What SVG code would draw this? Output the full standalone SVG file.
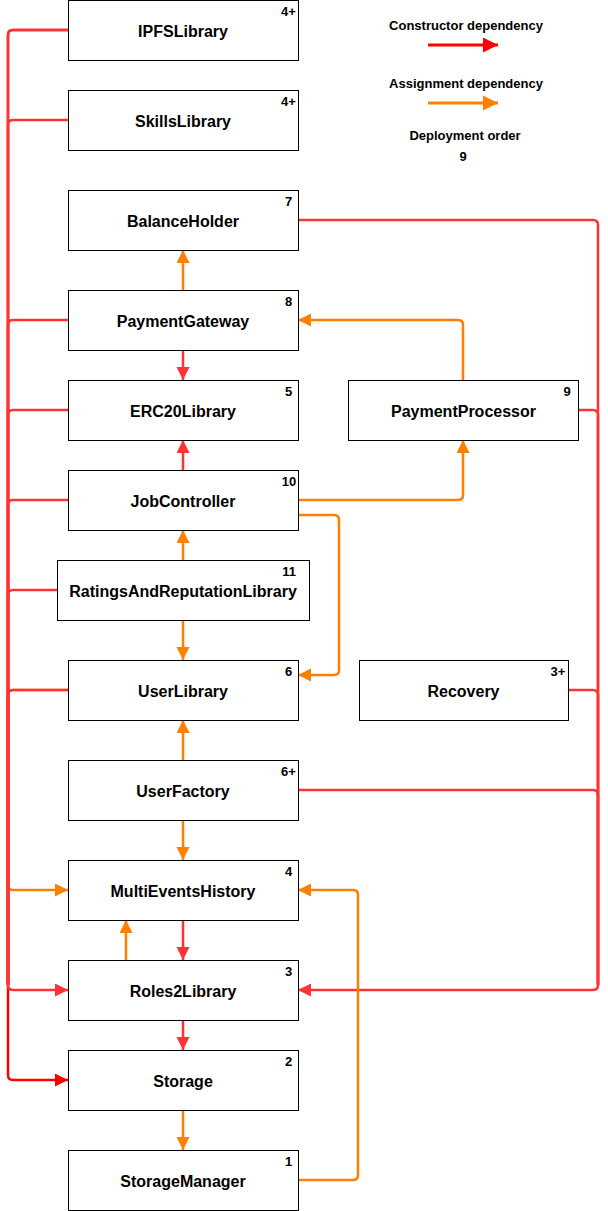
<svg xmlns="http://www.w3.org/2000/svg" width="608" height="1211" viewBox="0 0 608 1211">
<style>
.box{fill:#fff;stroke:#000;stroke-width:1}
.lbl{font-family:"Liberation Sans",Arial,sans-serif;font-weight:bold;font-size:16px;fill:#000;text-anchor:middle}
.num{font-family:"Liberation Sans",Arial,sans-serif;font-weight:bold;font-size:13px;fill:#000;text-anchor:middle}
.leg{font-family:"Liberation Sans",Arial,sans-serif;font-weight:bold;font-size:13px;fill:#000;text-anchor:middle}
.r{fill:none;stroke:#FF3333;stroke-width:2.5}
.rr{fill:none;stroke:#FF0000;stroke-width:2.5}
.o{fill:none;stroke:#FF8000;stroke-width:2.5}
.ar{marker-end:url(#mr)}
.ao{marker-end:url(#mo)}
.arr{marker-end:url(#mrr)}
</style>
<defs>
<marker id="mr" markerUnits="userSpaceOnUse" markerWidth="14" markerHeight="14" refX="13" refY="6.5" orient="auto"><path d="M0,0 L13,6.5 L0,13 z" fill="#FF3333"/></marker>
<marker id="mrr" markerUnits="userSpaceOnUse" markerWidth="14" markerHeight="14" refX="13" refY="6.5" orient="auto"><path d="M0,0 L13,6.5 L0,13 z" fill="#FF0000"/></marker>
<marker id="mo" markerUnits="userSpaceOnUse" markerWidth="14" markerHeight="14" refX="13" refY="6.5" orient="auto"><path d="M0,0 L13,6.5 L0,13 z" fill="#FF8000"/></marker>
<marker id="lr" markerUnits="userSpaceOnUse" markerWidth="16" markerHeight="16" refX="15" refY="7.5" orient="auto"><path d="M0,0 L15,7.5 L0,15 z" fill="#FF0000"/></marker>
<marker id="lo" markerUnits="userSpaceOnUse" markerWidth="16" markerHeight="16" refX="15" refY="7.5" orient="auto"><path d="M0,0 L15,7.5 L0,15 z" fill="#FF8000"/></marker>
</defs>

<g id="connectors">
  <!-- left bus -->
  <path class="rr arr" d="M68 30 H13 Q8 30 8 35 V1075 Q8 1080 13 1080 H68"/>
  <path class="o ao" d="M68 690 H13 Q8 690 8 695 V885 Q8 890 13 890 H68"/>
  <path class="r ar" d="M68 30 H13 Q8 30 8 35 V985 Q8 990 13 990 H68"/>
  <path class="r" d="M68 120 H13 Q8 120 8 125 V985"/>
  <path class="r" d="M68 320 H13 Q8 320 8 325 V985"/>
  <path class="r" d="M68 410 H13 Q8 410 8 415 V985"/>
  <path class="r" d="M68 500 H13 Q8 500 8 505 V985"/>
  <path class="r" d="M57 590 H13 Q8 590 8 595 V985"/>
  <path class="r" d="M68 690 H13 Q8 690 8 695 V985"/>
  <!-- right bus -->
  <path class="r ar" d="M298 220 H593 Q598 220 598 225 V985 Q598 990 593 990 H298"/>
  <path class="r" d="M578 410 H593 Q598 410 598 415 V985"/>
  <path class="r" d="M568 690 H593 Q598 690 598 695 V985"/>
  <path class="r" d="M298 790 H593 Q598 790 598 795 V985"/>
  <!-- vertical links -->
  <path class="o ao" d="M183 290 V250"/>
  <path class="r ar" d="M183 350 V380"/>
  <path class="r ar" d="M183 470 V440"/>
  <path class="o ao" d="M183 560 V530"/>
  <path class="o ao" d="M183 620 V660"/>
  <path class="o ao" d="M183 760 V720"/>
  <path class="o ao" d="M183 820 V860"/>
  <path class="r ar" d="M183 920 V960"/>
  <path class="o ao" d="M126 960 V920"/>
  <path class="r ar" d="M183 1020 V1050"/>
  <path class="o ao" d="M183 1110 V1150"/>
  <!-- routed links -->
  <path class="o ao" d="M463 380 V325 Q463 320 458 320 H298"/>
  <path class="o ao" d="M298 500 H458 Q463 500 463 495 V440"/>
  <path class="o ao" d="M298 515 H334 Q339 515 339 520 V670 Q339 675 334 675 H298"/>
  <path class="o ao" d="M298 1180 H353 Q358 1180 358 1175 V895 Q358 890 353 890 H298"/>
</g>

<g id="legend">
  <text class="leg" x="466" y="30">Constructor dependency</text>
  <path d="M428 45 H498" fill="none" stroke="#FF0000" stroke-width="3" marker-end="url(#lr)"/>
  <text class="leg" x="466" y="88">Assignment dependency</text>
  <path d="M428 103 H498" fill="none" stroke="#FF8000" stroke-width="3" marker-end="url(#lo)"/>
  <text class="leg" x="465" y="140">Deployment order</text>
  <text class="leg" x="463" y="161">9</text>
</g>

<g id="IPFSLibrary"><rect class="box" x="68.5" y="0.5" width="230" height="60"/><text class="lbl" x="183" y="37">IPFSLibrary</text><text class="num" x="288.5" y="16">4+</text></g>
<g id="SkillsLibrary"><rect class="box" x="68.5" y="90.5" width="230" height="60"/><text class="lbl" x="183" y="127">SkillsLibrary</text><text class="num" x="288.5" y="106">4+</text></g>
<g id="BalanceHolder"><rect class="box" x="68.5" y="190.5" width="230" height="60"/><text class="lbl" x="183" y="227">BalanceHolder</text><text class="num" x="288.5" y="206">7</text></g>
<g id="PaymentGateway"><rect class="box" x="68.5" y="290.5" width="230" height="60"/><text class="lbl" x="183" y="327">PaymentGateway</text><text class="num" x="288.5" y="306">8</text></g>
<g id="ERC20Library"><rect class="box" x="68.5" y="380.5" width="230" height="60"/><text class="lbl" x="183" y="417">ERC20Library</text><text class="num" x="288.5" y="396">5</text></g>
<g id="PaymentProcessor"><rect class="box" x="348.5" y="380.5" width="230" height="60"/><text class="lbl" x="463.5" y="417">PaymentProcessor</text><text class="num" x="567" y="396">9</text></g>
<g id="JobController"><rect class="box" x="68.5" y="470.5" width="230" height="60"/><text class="lbl" x="183" y="507">JobController</text><text class="num" x="289" y="486">10</text></g>
<g id="RatingsAndReputationLibrary"><rect class="box" x="57.5" y="560.5" width="252" height="60"/><text class="lbl" x="183" y="597">RatingsAndReputationLibrary</text><text class="num" x="289" y="576">11</text></g>
<g id="UserLibrary"><rect class="box" x="68.5" y="660.5" width="230" height="60"/><text class="lbl" x="183" y="697">UserLibrary</text><text class="num" x="288.5" y="676">6</text></g>
<g id="Recovery"><rect class="box" x="359.5" y="660.5" width="209" height="60"/><text class="lbl" x="463.5" y="697">Recovery</text><text class="num" x="558" y="676">3+</text></g>
<g id="UserFactory"><rect class="box" x="68.5" y="760.5" width="230" height="60"/><text class="lbl" x="183" y="797">UserFactory</text><text class="num" x="288.5" y="776">6+</text></g>
<g id="MultiEventsHistory"><rect class="box" x="68.5" y="860.5" width="230" height="60"/><text class="lbl" x="183" y="897">MultiEventsHistory</text><text class="num" x="288.5" y="876">4</text></g>
<g id="Roles2Library"><rect class="box" x="68.5" y="960.5" width="230" height="60"/><text class="lbl" x="183" y="997">Roles2Library</text><text class="num" x="288.5" y="976">3</text></g>
<g id="Storage"><rect class="box" x="68.5" y="1050.5" width="230" height="60"/><text class="lbl" x="183" y="1087">Storage</text><text class="num" x="288.5" y="1066">2</text></g>
<g id="StorageManager"><rect class="box" x="68.5" y="1150.5" width="230" height="60"/><text class="lbl" x="183" y="1187">StorageManager</text><text class="num" x="288.5" y="1166">1</text></g>
</svg>
